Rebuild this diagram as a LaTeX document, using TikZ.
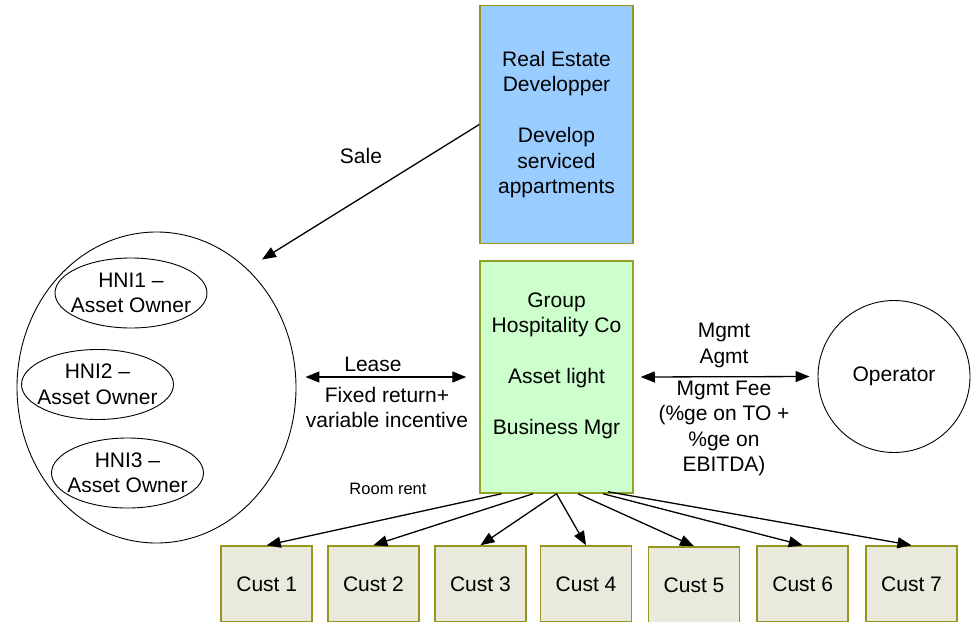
\documentclass[tikz,border=0pt]{standalone}
\usepackage{fontspec}
\setmainfont{Liberation Sans}
\usetikzlibrary{arrows.meta,shapes.geometric}

\definecolor{boxedge}{RGB}{150,150,30}
\definecolor{grpedge}{RGB}{145,160,40}
\definecolor{devblue}{RGB}{153,204,255}
\definecolor{grpgreen}{RGB}{204,255,204}
\definecolor{custfill}{RGB}{233,233,220}

\tikzset{
  txt/.style={font=\fontsize{21}{25.5}\selectfont, align=center},
  entity/.style={txt, draw=boxedge, line width=1.5pt, inner sep=0pt},
  owner/.style={txt, ellipse, draw, line width=0.9pt, inner sep=-10pt,
    minimum width=152pt, minimum height=70pt},
  flow/.style={-{Triangle[length=14pt,width=11pt]}, line width=1.3pt},
  twoway/.style={{Triangle[length=14pt,width=11pt]}-{Triangle[length=14pt,width=11pt]}, line width=1.3pt},
}

\begin{document}
\begin{tikzpicture}[x=1pt,y=-1pt]
  \clip (0,0) rectangle (971,621);
  \fill[white] (0,0) rectangle (971,621);

  % developer and hospitality company
  \node[entity, fill=devblue, minimum width=153pt, minimum height=238pt] (dev) at (556.5,124.5)
    {Real Estate\\Developper\\[25.5pt]Develop\\serviced\\appartments};
  \node[entity, draw=grpedge, fill=grpgreen, minimum width=153pt, minimum height=232pt] (grp) at (556.5,377)
    {Group\\Hospitality Co\\[25.5pt]Asset light\\[25.5pt]Business Mgr\\[1.5pt]\mbox{}};

  % asset owners
  \node[ellipse, draw, line width=0.9pt, inner sep=0pt, minimum width=279pt, minimum height=311pt] (owners) at (156.5,387.5) {};
  \node[owner] (hni1) at (131,293) {HNI1 –\\Asset Owner};
  \node[owner] (hni2) at (97.5,384.5) {HNI2 –\\Asset Owner};
  \node[owner] (hni3) at (127.5,473) {HNI3 –\\Asset Owner};

  % operator
  \node[circle, draw, line width=0.9pt, minimum size=152pt, inner sep=0pt, txt] (op) at (894,376.5) {Operator};

  % customers
  \node[entity, fill=custfill, minimum width=91pt, minimum height=76pt] (c1) at (266.7,584) {Cust 1};
  \node[entity, fill=custfill, minimum width=91pt, minimum height=76pt] (c2) at (373.4,584) {Cust 2};
  \node[entity, fill=custfill, minimum width=91pt, minimum height=76pt] (c3) at (480.4,584) {Cust 3};
  \node[entity, fill=custfill, minimum width=91pt, minimum height=76pt] (c4) at (586,584) {Cust 4};
  \node[entity, fill=custfill, minimum width=91pt, minimum height=76pt] (c5) at (694,585) {Cust 5};
  \node[entity, fill=custfill, minimum width=91pt, minimum height=76pt] (c6) at (802.7,584) {Cust 6};
  \node[entity, fill=custfill, minimum width=91pt, minimum height=76pt] (c7) at (911.5,584) {Cust 7};

  % labels
  \node[txt] (salelbl) at (361,156) {Sale};
  \node[txt] (leaselbl) at (373,364) {Lease};
  \node[txt] (leaseterms) at (387,407.5) {Fixed return+\\variable incentive};
  \node[txt] (mgmtlbl) at (724,345.5) {Mgmt\\Agmt};
  \node[txt] (feelbl) at (724,428.5) {Mgmt Fee\\(\%ge on TO +\\\%ge on\\EBITDA)};
  \node[font=\fontsize{16.5}{20}\selectfont] (rentlbl) at (388,489) {Room rent};

  % connectors
  \coordinate (saletip) at (262,259.5);
  \draw[flow] (dev.west) -- (saletip);
  \draw[twoway, shorten <=9pt, shorten >=13pt] (owners.east |- grp.west) -- (grp.west);
  \draw[twoway, shorten <=7pt, shorten >=8pt] (grp.east) -- (op.west);

  \draw[flow] ([xshift=-55pt]grp.south) -- (c1.north);
  \draw[flow] ([xshift=-23.5pt]grp.south) -- (c2.north);
  \draw[flow] (grp.south) -- (c3.north);
  \draw[flow] (grp.south) -- (c4.north);
  \draw[flow] ([xshift=21.5pt]grp.south) -- (c5.north);
  \draw[flow] ([xshift=46.5pt]grp.south) -- (c6.north);
  \draw[flow] ([xshift=51.5pt,yshift=2pt]grp.south) -- (c7.north);
\end{tikzpicture}
\end{document}
